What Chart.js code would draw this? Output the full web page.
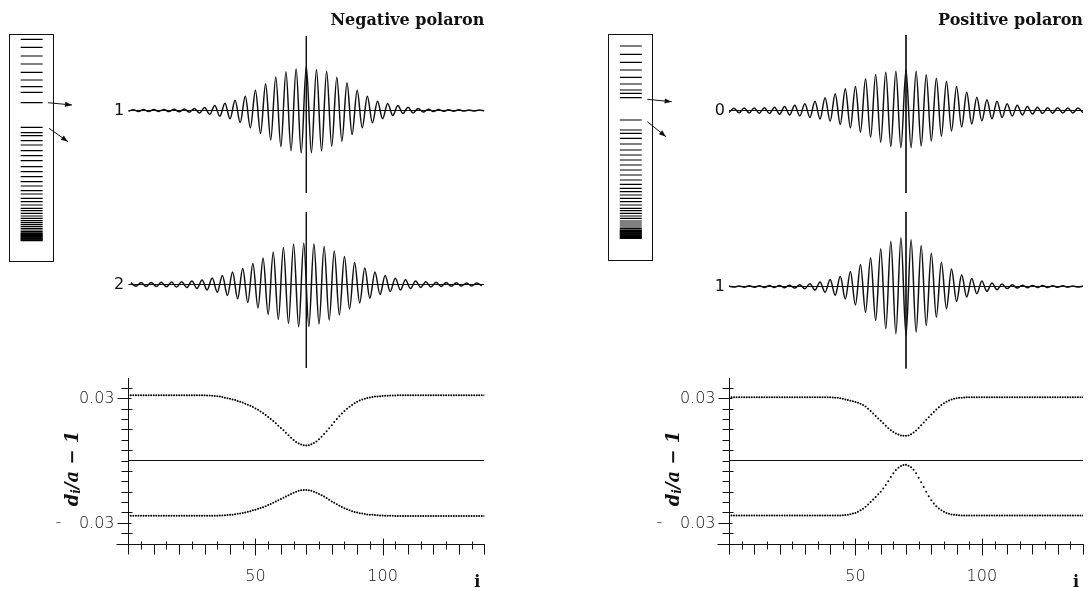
<!DOCTYPE html>
<html>
<head>
<meta charset="utf-8">
<script src="https://cdn.jsdelivr.net/npm/chart.js@4.4.1/dist/chart.umd.min.js"></script>
<style>
  body { margin: 0; background: #fff; width: 1088px; height: 591px; position: relative; overflow: hidden; }
  canvas { position: absolute; }
</style>
</head>
<body>
<canvas id="levNeg" width="90" height="240" style="left:0;top:30px"></canvas>
<canvas id="negWave1" width="400" height="200" style="left:100px;top:0"></canvas>
<canvas id="negWave2" width="400" height="200" style="left:100px;top:174px"></canvas>
<canvas id="negLattice" width="465" height="226" style="left:40px;top:365px"></canvas>

<canvas id="levPos" width="90" height="240" style="left:598px;top:30px"></canvas>
<canvas id="posWave0" width="388" height="200" style="left:700px;top:0"></canvas>
<canvas id="posWave1" width="388" height="200" style="left:700px;top:176px"></canvas>
<canvas id="posLattice" width="448" height="226" style="left:640px;top:365px"></canvas>

<script>
const ink = '#111';
const siteMax = 140;
const centreSite = 70;

// electron levels (arbitrary energy units, 0 = bottom of the box)
const negLevels = [222.7, 214.7, 206, 198, 189.7, 182, 175.3, 169.7, 159.3,
  134.7, 129.3, 126.3, 121.3, 117, 111.3, 106.3, 101.3, 95.3, 90.3, 85.3, 80.3, 76, 71.3, 68,
  63.7, 60.3, 57, 53.7, 51.3, 48.7, 46, 43.7, 41.3, 39.3, 37.3, 35.3, 33.5, 32, 30.5, 29.2,
  28.5, 27.7, 27, 26.3, 25.6, 24.9, 24.2, 23.5, 22.8, 22.1, 21.4];
const posLevels = [214.7, 206.4, 198.4, 190.7, 183.4, 176.7, 170.7, 167.4, 163,
  140.7, 130.7, 127.4, 122.4, 116.7, 110.7, 105.7, 100.7, 95.7, 90.7, 85.7, 80.7, 76.4, 72.4, 69,
  65.7, 62.4, 59, 55.7, 52.4, 50, 47.4, 44.7, 42.4, 39.7, 37.7, 35.7, 33.7, 32, 30.7, 30,
  29.3, 28.6, 27.9, 27.2, 26.5, 25.8, 25.1, 24.4, 23.7, 23.0, 22.4];

// wave function extrema, one value every second site
const evenSites = Array.from({ length: 71 }, (_, k) => 2 * k);
const oddSites = Array.from({ length: 70 }, (_, k) => 2 * k + 1);

const negState1 = [
  -0.008, 0.008, -0.009, 0.009, -0.010, 0.010, -0.010, 0.011, -0.011, 0.012,
  -0.013, 0.015, -0.017, 0.021, -0.026, 0.030, -0.038, 0.050, -0.058, 0.073,
  -0.083, 0.102, -0.120, 0.143, -0.173, 0.202, -0.230, 0.268, -0.295, 0.335,
  -0.360, 0.388, -0.402, 0.418, -0.425, 0.445, -0.423, 0.410, -0.405, 0.393,
  -0.357, 0.333, -0.307, 0.277, -0.240, 0.203, -0.173, 0.143, -0.123, 0.093,
  -0.083, 0.070, -0.050, 0.050, -0.030, 0.033, -0.024, 0.020, -0.015, 0.012,
  -0.010, 0.009, -0.008, 0.008, -0.007, 0.007, -0.006, 0.006, -0.006, 0.005, -0.005];
const negState2 = [
  0.018, -0.018, 0.019, -0.020, 0.020, -0.021, 0.022, -0.023, 0.024, -0.026,
  0.028, -0.031, 0.035, -0.040, 0.046, -0.054, 0.064, -0.077, 0.090, -0.110,
  0.125, -0.143, 0.160, -0.180, 0.210, -0.235, 0.265, -0.300, 0.325, -0.350,
  0.370, -0.390, 0.405, -0.423, 0.415, -0.420, 0.408, -0.395, 0.380, -0.355,
  0.335, -0.305, 0.280, -0.245, 0.220, -0.185, 0.165, -0.138, 0.125, -0.100,
  0.090, -0.070, 0.063, -0.055, 0.047, -0.040, 0.035, -0.030, 0.027, -0.024,
  0.022, -0.020, 0.019, -0.018, 0.017, -0.016, 0.016, -0.015, 0.015, -0.014];
const posState0 = [
  -0.020, 0.022, -0.023, 0.024, -0.025, 0.026, -0.027, 0.028, -0.030, 0.033,
  -0.037, 0.040, -0.045, 0.053, -0.055, 0.067, -0.070, 0.093, -0.085, 0.127,
  -0.107, 0.167, -0.140, 0.217, -0.173, 0.240, -0.217, 0.317, -0.267, 0.360,
  -0.317, 0.383, -0.360, 0.393, -0.373, 0.407, -0.373, 0.393, -0.355, 0.357,
  -0.305, 0.323, -0.255, 0.293, -0.205, 0.240, -0.165, 0.183, -0.135, 0.133,
  -0.103, 0.107, -0.083, 0.093, -0.070, 0.067, -0.055, 0.053, -0.045, 0.040,
  -0.036, 0.033, -0.030, 0.028, -0.027, 0.027, -0.026, 0.026, -0.025, 0.024, -0.022];
const posState1 = [
  0.005, -0.006, 0.006, -0.007, 0.007, -0.008, 0.008, -0.009, 0.009, -0.010,
  0.011, -0.012, 0.013, -0.015, 0.018, -0.022, 0.028, -0.036, 0.045, -0.058,
  0.070, -0.088, 0.103, -0.125, 0.150, -0.185, 0.220, -0.257, 0.287, -0.340,
  0.377, -0.423, 0.453, -0.473, 0.487, -0.490, 0.467, -0.457, 0.410, -0.390,
  0.333, -0.307, 0.243, -0.223, 0.175, -0.150, 0.118, -0.105, 0.080, -0.072,
  0.055, -0.048, 0.036, -0.032, 0.024, -0.021, 0.018, -0.015, 0.013, -0.012,
  0.011, -0.010, 0.009, -0.009, 0.008, -0.008, 0.007, -0.007, 0.006, -0.006, 0.005];

// lattice distortion d_i/a - 1 on every site, two sublattices
const latticeSites = Array.from({ length: 141 }, (_, k) => k);
const negUpper = [
  0.0314, 0.0314, 0.0314, 0.0314, 0.0314, 0.0314, 0.0314, 0.0314, 0.0314, 0.0314,
  0.0314, 0.0314, 0.0314, 0.0314, 0.0314, 0.0314, 0.0314, 0.0314, 0.0314, 0.0314,
  0.0314, 0.0314, 0.0314, 0.0314, 0.0314, 0.0314, 0.0314, 0.0314, 0.0314, 0.0314,
  0.0314, 0.0313, 0.0313, 0.0312, 0.0311, 0.0310, 0.0308, 0.0306, 0.0303, 0.0300,
  0.0297, 0.0294, 0.0291, 0.0287, 0.0283, 0.0279, 0.0274, 0.0269, 0.0264, 0.0258,
  0.0251, 0.0244, 0.0236, 0.0228, 0.0219, 0.0210, 0.0200, 0.0190, 0.0179, 0.0168,
  0.0157, 0.0146, 0.0134, 0.0122, 0.0110, 0.0099, 0.0089, 0.0082, 0.0077, 0.0073,
  0.0072, 0.0074, 0.0078, 0.0084, 0.0092, 0.0103, 0.0115, 0.0128, 0.0141, 0.0155,
  0.0170, 0.0185, 0.0200, 0.0213, 0.0226, 0.0238, 0.0249, 0.0259, 0.0268, 0.0276,
  0.0283, 0.0289, 0.0294, 0.0298, 0.0301, 0.0304, 0.0306, 0.0308, 0.0309, 0.0310,
  0.0311, 0.0312, 0.0312, 0.0313, 0.0313, 0.0313, 0.0314, 0.0314, 0.0314, 0.0314,
  0.0314, 0.0314, 0.0314, 0.0314, 0.0314, 0.0314, 0.0314, 0.0314, 0.0314, 0.0314,
  0.0314, 0.0314, 0.0314, 0.0314, 0.0314, 0.0314, 0.0314, 0.0314, 0.0314, 0.0314,
  0.0314, 0.0314, 0.0314, 0.0314, 0.0314, 0.0314, 0.0314, 0.0314, 0.0314, 0.0314,
  0.0314];
const negLower = [
  -0.0266, -0.0266, -0.0266, -0.0266, -0.0266, -0.0266, -0.0266, -0.0266, -0.0266, -0.0266,
  -0.0266, -0.0266, -0.0266, -0.0266, -0.0266, -0.0266, -0.0266, -0.0266, -0.0266, -0.0266,
  -0.0266, -0.0266, -0.0266, -0.0266, -0.0266, -0.0266, -0.0266, -0.0266, -0.0266, -0.0266,
  -0.0266, -0.0266, -0.0266, -0.0266, -0.0266, -0.0266, -0.0265, -0.0265, -0.0264, -0.0263,
  -0.0262, -0.0261, -0.0259, -0.0257, -0.0255, -0.0253, -0.0250, -0.0247, -0.0244, -0.0240,
  -0.0237, -0.0233, -0.0229, -0.0225, -0.0220, -0.0215, -0.0210, -0.0204, -0.0198, -0.0192,
  -0.0186, -0.0179, -0.0173, -0.0167, -0.0161, -0.0155, -0.0150, -0.0146, -0.0143, -0.0142,
  -0.0142, -0.0143, -0.0146, -0.0150, -0.0155, -0.0161, -0.0167, -0.0174, -0.0181, -0.0189,
  -0.0197, -0.0204, -0.0211, -0.0218, -0.0224, -0.0230, -0.0235, -0.0240, -0.0244, -0.0248,
  -0.0251, -0.0254, -0.0256, -0.0258, -0.0260, -0.0261, -0.0262, -0.0263, -0.0264, -0.0265,
  -0.0265, -0.0266, -0.0266, -0.0266, -0.0266, -0.0267, -0.0267, -0.0267, -0.0267, -0.0267,
  -0.0267, -0.0267, -0.0267, -0.0267, -0.0267, -0.0267, -0.0267, -0.0267, -0.0267, -0.0267,
  -0.0267, -0.0267, -0.0267, -0.0267, -0.0267, -0.0267, -0.0267, -0.0267, -0.0267, -0.0267,
  -0.0267, -0.0267, -0.0267, -0.0267, -0.0267, -0.0267, -0.0267, -0.0267, -0.0267, -0.0267,
  -0.0267];
const posUpper = [
  0.0305, 0.0305, 0.0305, 0.0305, 0.0305, 0.0305, 0.0305, 0.0305, 0.0305, 0.0305,
  0.0305, 0.0305, 0.0305, 0.0305, 0.0305, 0.0305, 0.0305, 0.0305, 0.0305, 0.0305,
  0.0305, 0.0305, 0.0305, 0.0305, 0.0305, 0.0305, 0.0305, 0.0305, 0.0305, 0.0305,
  0.0305, 0.0305, 0.0305, 0.0305, 0.0305, 0.0305, 0.0305, 0.0305, 0.0305, 0.0305,
  0.0305, 0.0304, 0.0303, 0.0302, 0.0300, 0.0297, 0.0294, 0.0291, 0.0288, 0.0285,
  0.0282, 0.0278, 0.0273, 0.0267, 0.0260, 0.0250, 0.0239, 0.0227, 0.0215, 0.0203,
  0.0191, 0.0179, 0.0167, 0.0156, 0.0146, 0.0137, 0.0130, 0.0125, 0.0121, 0.0119,
  0.0119, 0.0121, 0.0127, 0.0135, 0.0145, 0.0157, 0.0170, 0.0183, 0.0196, 0.0209,
  0.0222, 0.0234, 0.0246, 0.0257, 0.0267, 0.0276, 0.0283, 0.0289, 0.0294, 0.0297,
  0.0300, 0.0302, 0.0303, 0.0304, 0.0305, 0.0305, 0.0305, 0.0305, 0.0305, 0.0305,
  0.0305, 0.0305, 0.0305, 0.0305, 0.0305, 0.0305, 0.0305, 0.0305, 0.0305, 0.0305,
  0.0305, 0.0305, 0.0305, 0.0305, 0.0305, 0.0305, 0.0305, 0.0305, 0.0305, 0.0305,
  0.0305, 0.0305, 0.0305, 0.0305, 0.0305, 0.0305, 0.0305, 0.0305, 0.0305, 0.0305,
  0.0305, 0.0305, 0.0305, 0.0305, 0.0305, 0.0305, 0.0305, 0.0305, 0.0305, 0.0305,
  0.0305];
const posLower = [
  -0.0265, -0.0265, -0.0265, -0.0265, -0.0265, -0.0265, -0.0265, -0.0265, -0.0265, -0.0265,
  -0.0265, -0.0265, -0.0265, -0.0265, -0.0265, -0.0265, -0.0265, -0.0265, -0.0265, -0.0265,
  -0.0265, -0.0265, -0.0265, -0.0265, -0.0265, -0.0265, -0.0265, -0.0265, -0.0265, -0.0265,
  -0.0265, -0.0265, -0.0265, -0.0265, -0.0265, -0.0265, -0.0265, -0.0265, -0.0265, -0.0265,
  -0.0265, -0.0265, -0.0265, -0.0265, -0.0265, -0.0264, -0.0263, -0.0261, -0.0259, -0.0256,
  -0.0253, -0.0247, -0.0240, -0.0232, -0.0223, -0.0212, -0.0200, -0.0188, -0.0176, -0.0163,
  -0.0150, -0.0135, -0.0118, -0.0100, -0.0080, -0.0062, -0.0046, -0.0035, -0.0027, -0.0022,
  -0.0021, -0.0025, -0.0032, -0.0045, -0.0062, -0.0083, -0.0105, -0.0128, -0.0151, -0.0172,
  -0.0191, -0.0207, -0.0220, -0.0231, -0.0240, -0.0247, -0.0253, -0.0257, -0.0260, -0.0262,
  -0.0263, -0.0264, -0.0265, -0.0265, -0.0265, -0.0265, -0.0265, -0.0265, -0.0265, -0.0265,
  -0.0265, -0.0265, -0.0265, -0.0265, -0.0265, -0.0265, -0.0265, -0.0265, -0.0265, -0.0265,
  -0.0265, -0.0265, -0.0265, -0.0265, -0.0265, -0.0265, -0.0265, -0.0265, -0.0265, -0.0265,
  -0.0265, -0.0265, -0.0265, -0.0265, -0.0265, -0.0265, -0.0265, -0.0265, -0.0265, -0.0265,
  -0.0265, -0.0265, -0.0265, -0.0265, -0.0265, -0.0265, -0.0265, -0.0265, -0.0265, -0.0265,
  -0.0265];

const xLabelValues = [50, 100];
const yLabelValues = [0.03, -0.03];

const plotFont = '200 16px "DejaVu Sans"';

function seg(ctx, x1, y1, x2, y2) {
  ctx.beginPath();
  ctx.moveTo(x1, y1);
  ctx.lineTo(x2, y2);
  ctx.stroke();
}

function arrow(ctx, x1, y1, x2, y2) {
  seg(ctx, x1, y1, x2, y2);
  const a = Math.atan2(y2 - y1, x2 - x1), L = 7, W = 2.6;
  const bx = x2 - L * Math.cos(a), by = y2 - L * Math.sin(a);
  ctx.beginPath();
  ctx.moveTo(x2, y2);
  ctx.lineTo(bx + W * Math.sin(a), by - W * Math.cos(a));
  ctx.lineTo(bx - W * Math.sin(a), by + W * Math.cos(a));
  ctx.closePath();
  ctx.fill();
}

const baseOptions = (padding) => ({
  responsive: false,
  animation: false,
  devicePixelRatio: 1,
  events: [],
  layout: { padding, autoPadding: false },
  plugins: { legend: { display: false }, tooltip: { enabled: false } }
});

// level scheme in a box, with arrows from the two gap states
function levelChart(id, levels, eMax, padding, arrows) {
  new Chart(document.getElementById(id), {
    type: 'scatter',
    data: {
      datasets: [{
        data: levels.map(e => ({ x: 0.5, y: e })),
        pointStyle: 'line',
        pointRadius: 11,
        pointBorderColor: '#000',
        pointBorderWidth: 1.2
      }]
    },
    options: {
      ...baseOptions(padding),
      scales: {
        x: { min: 0, max: 1, display: false },
        y: { min: 0, max: eMax, display: false }
      }
    },
    plugins: [{
      id: 'levelBox',
      afterDraw(chart) {
        const { ctx, chartArea: a, scales: { y } } = chart;
        ctx.save();
        ctx.strokeStyle = ink;
        ctx.fillStyle = ink;
        ctx.lineWidth = 1;
        ctx.strokeRect(Math.round(a.left) + 0.5, Math.round(a.top) + 0.5,
          Math.round(a.width) - 1, Math.round(a.height) - 1);
        arrows.forEach(([e, dx1, dy1, dx2, dy2]) => {
          const py = y.getPixelForValue(e);
          arrow(ctx, a.right + dx1, py + dy1, a.right + dx2, py + dy2);
        });
        ctx.restore();
      }
    }]
  });
}

// one wave function with its axis cross and state number
function waveChart(id, sites, values, padding, stateLabel, vLine, title) {
  new Chart(document.getElementById(id), {
    type: 'line',
    data: {
      datasets: [
        {
          data: sites.map((s, i) => ({ x: s, y: values[i] })),
          borderColor: ink,
          borderWidth: 1.5,
          pointRadius: 0,
          cubicInterpolationMode: 'monotone'
        },
        {
          data: [{ x: 0, y: 0 }, { x: siteMax, y: 0 }],
          borderColor: ink,
          borderWidth: 1,
          pointRadius: 0
        },
        {
          data: [{ x: centreSite, y: vLine[0] }, { x: centreSite, y: vLine[1] }],
          borderColor: ink,
          borderWidth: 0.9,
          pointRadius: 0
        }
      ]
    },
    options: {
      ...baseOptions(padding),
      scales: {
        x: { type: 'linear', min: 0, max: siteMax, display: false },
        y: { min: -0.85, max: 0.85, display: false }
      }
    },
    plugins: [{
      id: 'waveText',
      afterDraw(chart) {
        const { ctx, chartArea: a, scales: { y } } = chart;
        ctx.save();
        ctx.fillStyle = ink;
        ctx.font = '16px "DejaVu Sans"';
        ctx.textAlign = 'right';
        ctx.textBaseline = 'middle';
        ctx.fillText(stateLabel, a.left - 4, y.getPixelForValue(0));
        if (title) {
          ctx.font = 'bold 16px "DejaVu Serif"';
          ctx.textBaseline = 'alphabetic';
          ctx.fillText(title, a.right, 25);
        }
        ctx.restore();
      }
    }]
  });
}

// lattice distortion panel with plotter style axes
function latticeChart(id, upper, lower, padding) {
  const dots = (vals) => ({
    data: latticeSites.map((s, i) => ({ x: s, y: vals[i] })),
    showLine: false,
    pointRadius: 1,
    pointBorderWidth: 0,
    pointBackgroundColor: '#000'
  });
  new Chart(document.getElementById(id), {
    type: 'line',
    data: {
      datasets: [
        dots(upper),
        dots(lower),
        {
          data: [{ x: 0, y: 0 }, { x: siteMax, y: 0 }],
          borderColor: ink,
          borderWidth: 1,
          pointRadius: 0
        }
      ]
    },
    options: {
      ...baseOptions(padding),
      scales: {
        x: { type: 'linear', min: 0, max: siteMax, display: false },
        y: { min: -0.04, max: 0.04, display: false }
      }
    },
    plugins: [{
      id: 'plotterAxes',
      afterDraw(chart) {
        const { ctx, chartArea: a, scales: { x, y } } = chart;
        ctx.save();
        ctx.strokeStyle = ink;
        ctx.fillStyle = ink;
        ctx.lineWidth = 1;
        const x0 = Math.round(a.left) + 0.5;
        const yb = Math.round(a.bottom) + 0.5;
        seg(ctx, x0, Math.round(a.top), x0, yb);
        seg(ctx, x0 - 12, yb, Math.round(a.right) + 1, yb);

        for (let v = 0; v <= siteMax; v += 5) {
          const px = Math.round(x.getPixelForValue(v)) + 0.5;
          let up = 3, down = 5;
          if (v % 50 === 0 && v > 0) { up = 6; down = 11; }
          else if (v % 10 === 0) { up = 0; down = 10; }
          seg(ctx, px, yb - up, px, yb + down);
        }
        for (let i = -7; i <= 7; i++) {
          const py = Math.round(y.getPixelForValue(i * 0.005)) + 0.5;
          let left = 7, right = (i % 2 !== 0) ? 4 : 0;
          if (Math.abs(i) === 6) { left = 11; right = 3; }
          seg(ctx, x0 - left, py, x0 + right, py);
        }

        ctx.font = plotFont;
        ctx.textBaseline = 'middle';
        ctx.textAlign = 'right';
        yLabelValues.forEach(v => {
          const py = y.getPixelForValue(v);
          ctx.fillText(Math.abs(v).toFixed(2), x0 - 14, py + 1);
          if (v < 0) {
            ctx.textAlign = 'center';
            ctx.fillText('-', x0 - 70, py);
            ctx.textAlign = 'right';
          }
        });
        ctx.textAlign = 'center';
        xLabelValues.forEach(v => {
          ctx.fillText(String(v), x.getPixelForValue(v), yb + 32);
        });

        ctx.font = 'bold 16px "DejaVu Serif"';
        ctx.textBaseline = 'alphabetic';
        ctx.fillText('i', a.right - 7, yb + 42);

        // rotated axis title d_i/a - 1
        ctx.translate(x0 - 55.5, y.getPixelForValue(0) + 8);
        ctx.rotate(-Math.PI / 2);
        const big = 'italic bold 18px "DejaVu Serif"';
        const small = 'italic bold 12px "DejaVu Serif"';
        const parts = [['d', big, 0], ['i', small, 4], ['/a \u2212 1', big, 0]];
        let total = 0;
        parts.forEach(([t, f]) => { ctx.font = f; total += ctx.measureText(t).width; });
        let cx = -total / 2;
        ctx.textAlign = 'left';
        ctx.textBaseline = 'middle';
        parts.forEach(([t, f, dy]) => {
          ctx.font = f;
          ctx.fillText(t, cx, dy);
          cx += ctx.measureText(t).width;
        });
        ctx.restore();
      }
    }]
  });
}

// negative polaron
levelChart('levNeg', negLevels, 228, { left: 9.3, right: 36, top: 4, bottom: 8 },
  [[159.3, -6, 0, 18, 2.3], [134.7, -5, 1, 14, 14.4]]);
waveChart('negWave1', evenSites, negState1, { left: 28.3, right: 15.7, top: 25.5, bottom: 4.5 },
  '1', [0.745, -0.825], 'Negative polaron');
waveChart('negWave2', oddSites, negState2, { left: 28.3, right: 15.7, top: 25.5, bottom: 4.5 },
  '2', [0.725, -0.835]);
latticeChart('negLattice', negUpper, negLower, { left: 88.3, right: 20.7, top: 12.5, bottom: 47.5 });

// positive polaron
levelChart('levPos', posLevels, 226.7, { left: 10.3, right: 34.7, top: 4, bottom: 9.3 },
  [[163, -6, 1.6, 18.4, 4], [140.7, -6, 1.7, 12.7, 16.7]]);
waveChart('posWave0', evenSites, posState0, { left: 29, right: 5, top: 25.5, bottom: 4.5 },
  '0', [0.755, -0.825], 'Positive polaron');
waveChart('posWave1', evenSites, posState1, { left: 29, right: 5, top: 25.5, bottom: 4.5 },
  '1', [0.745, -0.82]);
latticeChart('posLattice', posUpper, posLower, { left: 89, right: 5, top: 12.5, bottom: 47.5 });
</script>
</body>
</html>
